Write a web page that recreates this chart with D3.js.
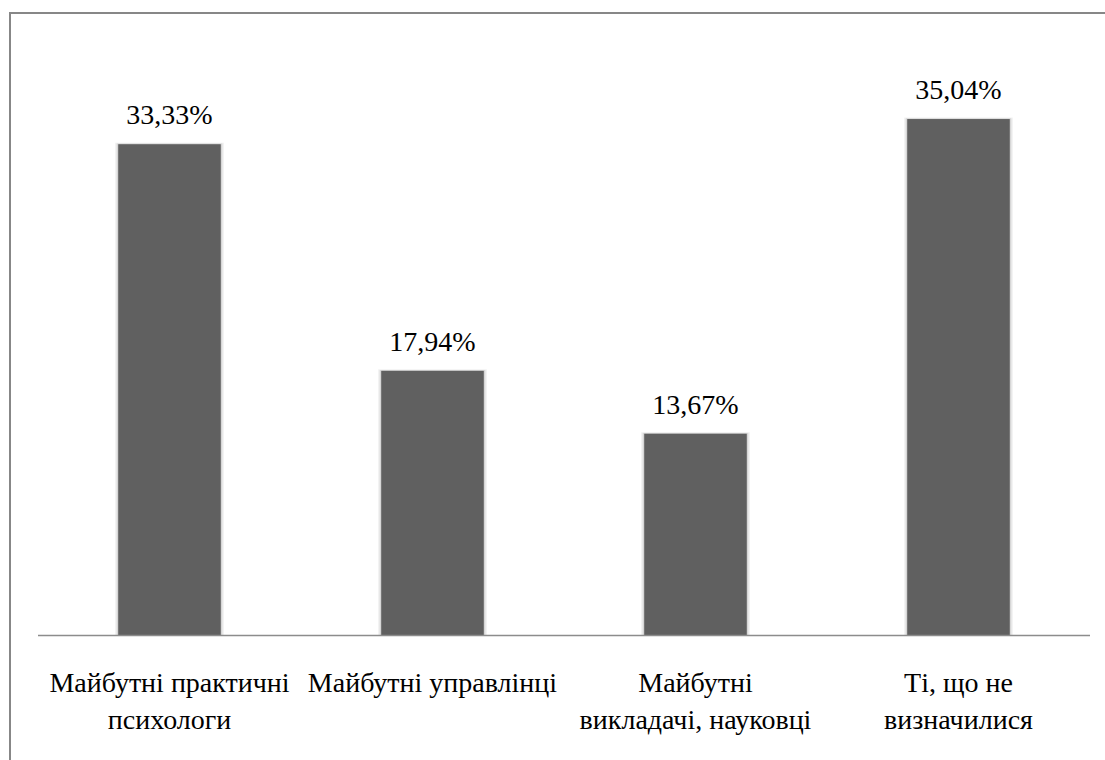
<!DOCTYPE html>
<html>
<head>
<meta charset="utf-8">
<script src="https://cdn.jsdelivr.net/npm/d3@7"></script>
<style>
  body { margin: 0; }
</style>
</head>
<body>
<div id="chart"></div>
<script>
// category labels, split into the lines shown under each bar
const categories = [
  ["Майбутні практичні", "психологи"],
  ["Майбутні управлінці"],
  ["Майбутні", "викладачі, науковці"],
  ["Ті, що не", "визначилися"]
]
const values = [33.33, 17.94, 13.67, 35.04]
const valueLabels = ["33,33%", "17,94%", "13,67%", "35,04%"]

const width = 1105
const height = 760
const baseY = 635
const serifFamily = "Times New Roman"

const svg = d3.select("#chart").append("svg")
    .attr("width", width)
    .attr("height", height)

// chart frame (right and bottom edges fall outside the picture)
svg.append("rect")
    .attr("x", 10).attr("y", 13)
    .attr("width", 1200).attr("height", 900)
    .attr("fill", "none")
    .attr("stroke", "#878787")
    .attr("stroke-width", 2)

const x = d3.scaleBand()
    .domain(d3.range(values.length))
    .range([38, 1090])
    .paddingInner(0.61)
    .paddingOuter(0.305)

const y = d3.scaleLinear()
    .domain([0, 40])
    .range([baseY, 46])

const bars = svg.append("g")

// soft light edge around each bar (two faint layers)
;[[3, "#f0f0f0"], [1.5, "#d6d6d6"]].forEach(([pad, col]) => {
  bars.append("g").selectAll("rect")
    .data(values)
    .enter().append("rect")
      .attr("x", (d, i) => x(i) - pad)
      .attr("y", d => y(d) - pad / 2)
      .attr("width", x.bandwidth() + pad * 2)
      .attr("height", d => baseY - y(d) + pad / 2)
      .attr("fill", col)
})

bars.append("g").selectAll("rect")
  .data(values)
  .enter().append("rect")
    .attr("x", (d, i) => x(i))
    .attr("y", d => y(d))
    .attr("width", x.bandwidth())
    .attr("height", d => baseY - y(d))
    .attr("fill", "#606060")

// value labels
svg.append("g").selectAll("text")
  .data(values)
  .enter().append("text")
    .attr("x", (d, i) => x(i) + x.bandwidth() / 2)
    .attr("y", d => y(d) - 20)
    .attr("text-anchor", "middle")
    .attr("font-family", serifFamily)
    .attr("font-size", 28)
    .text((d, i) => valueLabels[i])

// baseline
svg.append("line")
    .attr("x1", 38).attr("x2", 1090)
    .attr("y1", baseY + 0.5).attr("y2", baseY + 0.5)
    .attr("stroke", "#8c8c8c")
    .attr("stroke-width", 1.5)

// category labels, one text element per line
svg.append("g").selectAll("g")
  .data(categories)
  .enter().append("g")
    .each(function(lines, i) {
      d3.select(this).selectAll("text")
        .data(lines)
        .enter().append("text")
          .attr("text-anchor", "middle")
          .attr("font-family", serifFamily)
          .attr("font-size", 28)
          .attr("x", x(i) + x.bandwidth() / 2)
          .attr("y", (d, j) => 692 + j * 37)
          .text(d => d)
    })
</script>
</body>
</html>
